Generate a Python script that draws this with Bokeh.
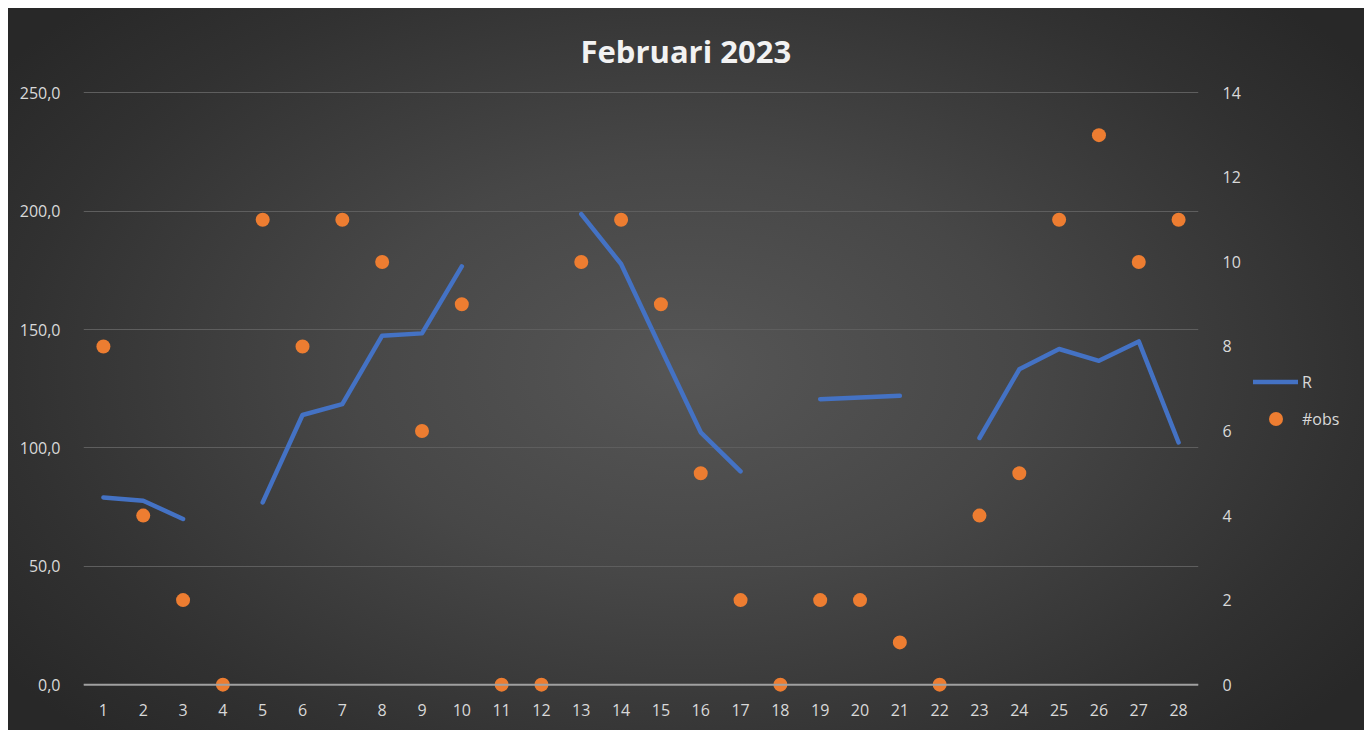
import numpy as np
from bokeh.plotting import figure
from bokeh.layouts import row
from bokeh.models import (Range1d, LinearAxis, FixedTicker, CustomJSTickFormatter,
                          Span, Legend, LegendItem, ColumnDataSource)
from bokeh.embed import file_html
from bokeh.resources import INLINE

days = list(range(1, 29))
r_values = [79.1, 77.7, 70.0, np.nan, 77.0, 113.9, 118.5, 147.4, 148.4, 176.7,
            np.nan, np.nan, 198.8, 177.7, 142.0, 106.6, 90.1, np.nan, 120.6, 121.3,
            122.0, np.nan, 104.2, 133.2, 141.8, 136.8, 145.0, 102.3]
obs_values = [8, 4, 2, 0, 11, 8, 11, 10, 6, 9, 0, 0, 10, 11, 9, 5, 2, 0, 2, 2,
              1, 0, 4, 5, 11, 13, 10, 11]
left_ticks = [0, 50, 100, 150, 200, 250]
right_ticks = [0, 2, 4, 6, 8, 10, 12, 14]
title_text = "Februari 2023"
series_names = ["R", "#obs"]

FONT = "Open Sans"
TXT = "#d9d9d9"
BLUE = "#4472C4"
ORANGE = "#ED7D31"

src = ColumnDataSource(dict(day=days, r=r_values, obs=obs_values))

p = figure(width=1240, height=722, output_backend="svg", toolbar_location=None,
           x_range=Range1d(0.5, 28.5), y_range=Range1d(-5, 251),
           min_border_left=75, min_border_right=50, min_border_top=82, min_border_bottom=34)
p.extra_y_ranges = {"obs": Range1d(-5 / 250 * 14, 251 / 250 * 14)}

p.background_fill_color = None
p.border_fill_color = None
p.outline_line_color = None

p.title.text = title_text
p.title.align = "left"
p.title.offset = 497
p.title.text_font = FONT
p.title.text_font_size = "31px"
p.title.text_font_style = "bold"
p.title.text_color = "#f2f2f2"
p.title.standoff = 38

# x axis
xa = p.xaxis[0]
xa.ticker = FixedTicker(ticks=days)
xa.axis_line_color = None
xa.major_tick_line_color = None
xa.minor_tick_line_color = None
xa.major_label_text_color = TXT
xa.major_label_text_font = FONT
xa.major_label_text_font_size = "16px"
xa.major_label_standoff = 1

# left axis
ya = p.yaxis[0]
ya.ticker = FixedTicker(ticks=left_ticks)
ya.formatter = CustomJSTickFormatter(code="return tick.toFixed(1).replace('.', ',');")
ya.axis_line_color = None
ya.major_tick_line_color = None
ya.minor_tick_line_color = None
ya.major_label_text_color = TXT
ya.major_label_text_font = FONT
ya.major_label_text_font_size = "16px"
ya.major_label_standoff = 17

# right axis
ra = LinearAxis(y_range_name="obs", ticker=FixedTicker(ticks=right_ticks))
ra.axis_line_color = None
ra.major_tick_line_color = None
ra.minor_tick_line_color = None
ra.major_label_text_color = TXT
ra.major_label_text_font = FONT
ra.major_label_text_font_size = "16px"
ra.major_label_standoff = 18
p.add_layout(ra, "right")

p.xgrid.visible = False
p.ygrid.ticker = FixedTicker(ticks=left_ticks)
p.ygrid.grid_line_color = "#5e5e5e"
p.ygrid.grid_line_width = 1

zero = Span(location=0, dimension="width", line_color="#a0a0a0", line_width=2)
p.add_layout(zero)

p.line("day", "r", source=src, line_color=BLUE, line_width=4.5,
       line_cap="round", line_join="round")
p.scatter("day", "obs", source=src, y_range_name="obs", size=14,
          fill_color=ORANGE, line_color=None)

# legend panel (separate small figure to the right); its renderers hold one
# point placed outside its visible range so that only the legend shows
q = figure(width=116, height=722, output_backend="svg", toolbar_location=None,
           x_range=Range1d(0, 1), y_range=Range1d(0, 1),
           x_axis_location=None, y_axis_location=None,
           min_border=0)
q.background_fill_color = None
q.border_fill_color = None
q.outline_line_color = None
q.grid.visible = False
lr = q.line(x=[5, 6], y=[5, 5], line_color=BLUE, line_width=4.5, line_cap="round")
sr = q.scatter(x=[5], y=[5], size=14, fill_color=ORANGE, line_color=None)
legend = Legend(items=[LegendItem(label=series_names[0], renderers=[lr]),
                       LegendItem(label=series_names[1], renderers=[sr])],
                location=(5, 260), background_fill_alpha=0, border_line_color=None,
                label_text_color=TXT, label_text_font=FONT, label_text_font_size="16px",
                glyph_width=45, glyph_height=35, spacing=2, label_standoff=4,
                margin=0, padding=4)
q.add_layout(legend, "center")

layout = row(p, q, spacing=0)
layout.styles = {"margin-left": "8px", "margin-top": "8px",
                 "background": "radial-gradient(ellipse 62% 72% at 50% 50%, #565656 0%, #474747 40%, #313131 80%, #282828 100%)"}

open("out.html", "w").write(file_html(layout, INLINE))
